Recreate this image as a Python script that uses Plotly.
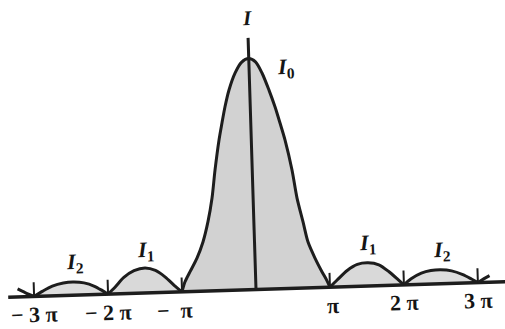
import math
import plotly.graph_objects as go

# Single-slit diffraction pattern: phase in units of pi, intensity as I/I0
main_u = [-1.0, -0.957, -0.885, -0.784, -0.696, -0.62, -0.555, -0.503, -0.436, -0.389,
          -0.342, -0.28, -0.19, -0.1, 0.0, 0.09, 0.173, 0.26, 0.334, 0.395, 0.455,
          0.537, 0.593, 0.664, 0.723, 0.81, 0.90, 0.96, 1.0]
main_i = [0.0, 0.042, 0.085, 0.144, 0.213, 0.30, 0.402, 0.522, 0.652, 0.725,
          0.794, 0.867, 0.94, 0.985, 1.0, 0.985, 0.936, 0.861, 0.788, 0.717, 0.643,
          0.512, 0.39, 0.286, 0.198, 0.128, 0.067, 0.03, 0.0]

left2_u = [-3.0, -2.88, -2.75, -2.6, -2.47, -2.32, -2.18, -2.08, -2.0]
left2_i = [0.0, 0.022, 0.042, 0.054, 0.057, 0.052, 0.036, 0.017, 0.0]
left1_u = [-2.0, -1.9, -1.78, -1.64, -1.49, -1.35, -1.22, -1.1, -1.0]
left1_i = [0.0, 0.03, 0.07, 0.098, 0.108, 0.096, 0.066, 0.028, 0.0]
right1_u = [1.0, 1.1, 1.24, 1.38, 1.525, 1.67, 1.8, 1.92, 2.0]
right1_i = [0.0, 0.03, 0.07, 0.095, 0.10, 0.09, 0.06, 0.025, 0.0]
right2_u = [2.0, 2.1, 2.24, 2.37, 2.5, 2.65, 2.8, 2.92, 3.0]
right2_i = [0.0, 0.025, 0.048, 0.058, 0.06, 0.054, 0.036, 0.015, 0.0]
tail_left_u = [-3.22, -3.12, -3.0]
tail_left_i = [0.035, 0.018, 0.0]
tail_right_u = [3.0, 3.08, 3.16]
tail_right_i = [0.0, 0.015, 0.028]

tick_u = [-3, -2, -1, 1, 2, 3]
tick_text = ["−\u00a03\u00a0π", "−\u00a02\u00a0π", "−\u00a0\u00a0π", "π", "2\u00a0π", "3\u00a0π"]
tick_label_u = [-3.0, -2.0, -1.1, 1.04, 2.0, 3.0]

peak_labels = ["<b><i>I</i></b><sub><b>0</b></sub>", "<b><i>I</i></b><sub><b>1</b></sub>",
               "<b><i>I</i></b><sub><b>2</b></sub>", "<b><i>I</i></b><sub><b>1</b></sub>",
               "<b><i>I</i></b><sub><b>2</b></sub>"]
peak_label_u = [0.5, -1.47, -2.43, 1.53, 2.53]
peak_label_i = [0.955, 0.18, 0.14, 0.18, 0.14]

# drawing geometry: pixels per unit and a slight tilt of the whole diagram
W, H = 505, 329
SX, SY = 74.0, 231.0
OX, OY = 256.0, 289.5
TILT = math.radians(1.8)


def place(us, vs):
    xs, ys = [], []
    c, s = math.cos(TILT), math.sin(TILT)
    for u, v in zip(us, vs):
        dx, dy = u * SX, v * SY
        xs.append((dx * c - dy * s) / SX)
        ys.append((dx * s + dy * c) / SY)
    return xs, ys


INK = "#1d1d1d"
fig = go.Figure()

# shaded lobes
for us, vs, col in [(main_u, main_i, "#d2d2d2"), (left1_u, left1_i, "#d9d9d9"),
                    (left2_u, left2_i, "#dddddd"), (right1_u, right1_i, "#d9d9d9"),
                    (right2_u, right2_i, "#dddddd")]:
    x, y = place(us, vs)
    fig.add_trace(go.Scatter(x=x, y=y, mode="lines", fill="toself", fillcolor=col,
                             line=dict(width=0, shape="spline", smoothing=0.8),
                             hoverinfo="skip"))

# baseline and intensity axis
x, y = place([-3.35, 3.45], [0, 0])
fig.add_trace(go.Scatter(x=x, y=y, mode="lines", line=dict(color=INK, width=3.5)))
x, y = place([0, 0], [0, 1.09])
fig.add_trace(go.Scatter(x=x, y=y, mode="lines", line=dict(color=INK, width=3)))

# tick marks
for u in tick_u:
    x, y = place([u, u], [0, 0.062])
    fig.add_trace(go.Scatter(x=x, y=y, mode="lines", line=dict(color=INK, width=2)))

# intensity curve
for us, vs in [(tail_left_u, tail_left_i), (left2_u, left2_i), (left1_u, left1_i),
               (main_u, main_i), (right1_u, right1_i), (right2_u, right2_i),
               (tail_right_u, tail_right_i)]:
    x, y = place(us, vs)
    fig.add_trace(go.Scatter(x=x, y=y, mode="lines",
                             line=dict(color=INK, width=3, shape="spline", smoothing=0.8)))

font = dict(family="Liberation Serif", color="#151515")
for u, t in zip(tick_label_u, tick_text):
    x, y = place([u], [-0.078])
    fig.add_annotation(x=x[0], y=y[0], text="<b>" + t + "</b>", showarrow=False,
                       textangle=-1.8, font=dict(size=22, **font))
for u, v, t in zip(peak_label_u, peak_label_i, peak_labels):
    x, y = place([u], [v])
    fig.add_annotation(x=x[0], y=y[0], text=t, showarrow=False, textangle=-1.8,
                       font=dict(size=22, **font))
x, y = place([0.0], [1.175])
fig.add_annotation(x=x[0], y=y[0], text="<b><i>I</i></b>", showarrow=False,
                   textangle=-1.8, font=dict(size=21, **font))

fig.update_layout(
    width=W, height=H, margin=dict(l=0, r=0, t=0, b=0),
    paper_bgcolor="white", plot_bgcolor="white", showlegend=False,
    xaxis=dict(range=[-OX / SX, (W - OX) / SX], visible=False, fixedrange=True),
    yaxis=dict(range=[-(H - OY) / SY, OY / SY], visible=False, fixedrange=True),
)
fig.write_html("out.html")
